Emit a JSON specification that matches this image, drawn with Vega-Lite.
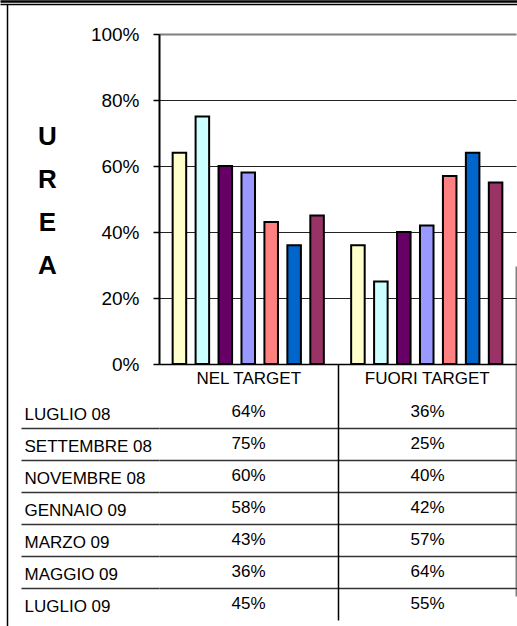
{
  "$schema": "https://vega.github.io/schema/vega-lite/v6.json",
  "width": 510,
  "height": 622,
  "autosize": {"type": "none"},
  "padding": {"left": 7, "top": 4, "right": 0, "bottom": 0},
  "background": "white",
  "config": {
    "view": {"stroke": null},
    "font": "Liberation Sans",
    "axis": {"labelFont": "Liberation Sans", "titleFont": "Liberation Sans", "labelColor": "black", "titleColor": "black"}
  },
  "data": {
    "values": [
      {"month": "LUGLIO 08", "cat": "NEL TARGET", "value": 0.64},
      {"month": "SETTEMBRE 08", "cat": "NEL TARGET", "value": 0.75},
      {"month": "NOVEMBRE 08", "cat": "NEL TARGET", "value": 0.60},
      {"month": "GENNAIO 09", "cat": "NEL TARGET", "value": 0.58},
      {"month": "MARZO 09", "cat": "NEL TARGET", "value": 0.43},
      {"month": "MAGGIO 09", "cat": "NEL TARGET", "value": 0.36},
      {"month": "LUGLIO 09", "cat": "NEL TARGET", "value": 0.45},
      {"month": "LUGLIO 08", "cat": "FUORI TARGET", "value": 0.36},
      {"month": "SETTEMBRE 08", "cat": "FUORI TARGET", "value": 0.25},
      {"month": "NOVEMBRE 08", "cat": "FUORI TARGET", "value": 0.40},
      {"month": "GENNAIO 09", "cat": "FUORI TARGET", "value": 0.42},
      {"month": "MARZO 09", "cat": "FUORI TARGET", "value": 0.57},
      {"month": "MAGGIO 09", "cat": "FUORI TARGET", "value": 0.64},
      {"month": "LUGLIO 09", "cat": "FUORI TARGET", "value": 0.55}
    ]
  },
  "resolve": {"scale": {"x": "independent", "y": "independent"}},
  "layer": [
    {
      "mark": {"type": "bar", "stroke": "black", "strokeWidth": 2},
      "encoding": {
        "x": {
          "field": "cat", "type": "nominal", "sort": ["NEL TARGET", "FUORI TARGET"],
          "scale": {"range": [152, 509], "paddingInner": 0, "paddingOuter": 0},
          "axis": {
            "orient": "bottom", "offset": -262, "title": null,
            "labelFontSize": 17, "labelAngle": 0, "labelBaseline": "top", "labelPadding": -250, "labelOverlap": false,
            "tickBand": "extent", "tickSize": 256, "tickColor": "black", "tickWidth": 1.5,
            "tickOpacity": {"condition": {"test": "datum.value === 'NEL TARGET' && !datum.extra", "value": 1}, "value": 0},
            "domainColor": "black", "domainWidth": 1.5,
            "grid": true, "gridColor": "#808080", "gridWidth": 2,
            "gridOpacity": {"condition": {"test": "datum.value === 'FUORI TARGET' && !datum.extra", "value": 1}, "value": 0}
          }
        },
        "xOffset": {
          "field": "month", "type": "nominal",
          "sort": ["LUGLIO 08", "SETTEMBRE 08", "NOVEMBRE 08", "GENNAIO 09", "MARZO 09", "MAGGIO 09", "LUGLIO 09"],
          "scale": {"paddingInner": 0.41, "paddingOuter": 0.595}
        },
        "y": {
          "field": "value", "type": "quantitative",
          "scale": {"domain": [0, 1], "range": [360, 30], "nice": false},
          "axis": {
            "orient": "left", "offset": -152,
            "values": [0, 0.2, 0.4, 0.6, 0.8, 1], "format": ".0%",
            "labelFontSize": 19, "labelPadding": 14,
            "tickSize": 6, "tickColor": "black", "tickWidth": 1.5,
            "domainColor": "black", "domainWidth": 2,
            "grid": true,
            "gridColor": {"condition": {"test": "datum.value === 1", "value": "#808080"}, "value": "#222222"},
            "gridWidth": {"condition": {"test": "datum.value === 1", "value": 2}, "value": 1},
            "title": ["U", "R", "E", "A"], "titleAngle": 0, "titleFontSize": 26, "titleFontWeight": "bold",
            "titleLineHeight": 43, "titleAlign": "center", "titleBaseline": "alphabetic",
            "titleX": -112, "titleY": 140
          }
        },
        "fill": {
          "field": "month", "type": "nominal",
          "scale": {
            "domain": ["LUGLIO 08", "SETTEMBRE 08", "NOVEMBRE 08", "GENNAIO 09", "MARZO 09", "MAGGIO 09", "LUGLIO 09"],
            "range": ["#FFFFCC", "#CCFFFF", "#660066", "#9999FF", "#FF8080", "#0066CC", "#993366"]
          },
          "legend": null
        }
      }
    },
    {
      "mark": {"type": "text", "fontSize": 17, "font": "Liberation Sans", "color": "black", "baseline": "middle", "align": "center"},
      "encoding": {
        "x": {
          "field": "cat", "type": "nominal", "sort": ["NEL TARGET", "FUORI TARGET"],
          "scale": {"range": [152, 510], "paddingInner": 0, "paddingOuter": 0},
          "axis": null
        },
        "y": {
          "field": "month", "type": "nominal",
          "sort": ["LUGLIO 08", "SETTEMBRE 08", "NOVEMBRE 08", "GENNAIO 09", "MARZO 09", "MAGGIO 09", "LUGLIO 09"],
          "scale": {"range": [392, 616], "paddingInner": 0, "paddingOuter": 0},
          "axis": {
            "orient": "left", "offset": -152, "title": null, "domain": false,
            "labelAlign": "left", "labelBaseline": "middle", "labelPadding": -3, "labelFontSize": 17, "labelOffset": 2, "labelOverlap": false,
            "tickSize": 138, "tickBand": "extent", "tickColor": "#333333", "tickWidth": 1.5,
            "tickOpacity": {"condition": {"test": "datum.extra || datum.value === 'LUGLIO 09'", "value": 0}, "value": 1},
            "grid": true, "gridColor": "#333333", "gridWidth": 1.5,
            "gridOpacity": {"condition": {"test": "datum.extra || datum.value === 'LUGLIO 09'", "value": 0}, "value": 1}
          }
        },
        "text": {"field": "value", "type": "quantitative", "format": ".0%"}
      }
    },
    {
      "mark": {"type": "point", "opacity": 0},
      "encoding": {
        "x": {
          "field": "value", "type": "quantitative",
          "scale": {"domain": [0, 1], "range": [-7, 510], "nice": false},
          "axis": {"orient": "top", "offset": 0, "domainColor": "black", "domainWidth": 1.5, "ticks": false, "labels": false, "grid": false, "title": null}
        },
        "y": {
          "field": "value", "type": "quantitative",
          "scale": {"domain": [0, 1], "range": [0, 622], "nice": false},
          "axis": {"orient": "left", "offset": 0, "domainColor": "black", "domainWidth": 1.5, "ticks": false, "labels": false, "grid": false, "title": null}
        }
      }
    },
    {
      "mark": {"type": "point", "opacity": 0},
      "encoding": {
        "x": {
          "field": "value", "type": "quantitative",
          "scale": {"domain": [0, 1], "range": [-7, 510], "nice": false},
          "axis": {"orient": "top", "offset": 3, "domainColor": "black", "domainWidth": 2.5, "ticks": false, "labels": false, "grid": false, "title": null}
        }
      }
    }
  ]
}
